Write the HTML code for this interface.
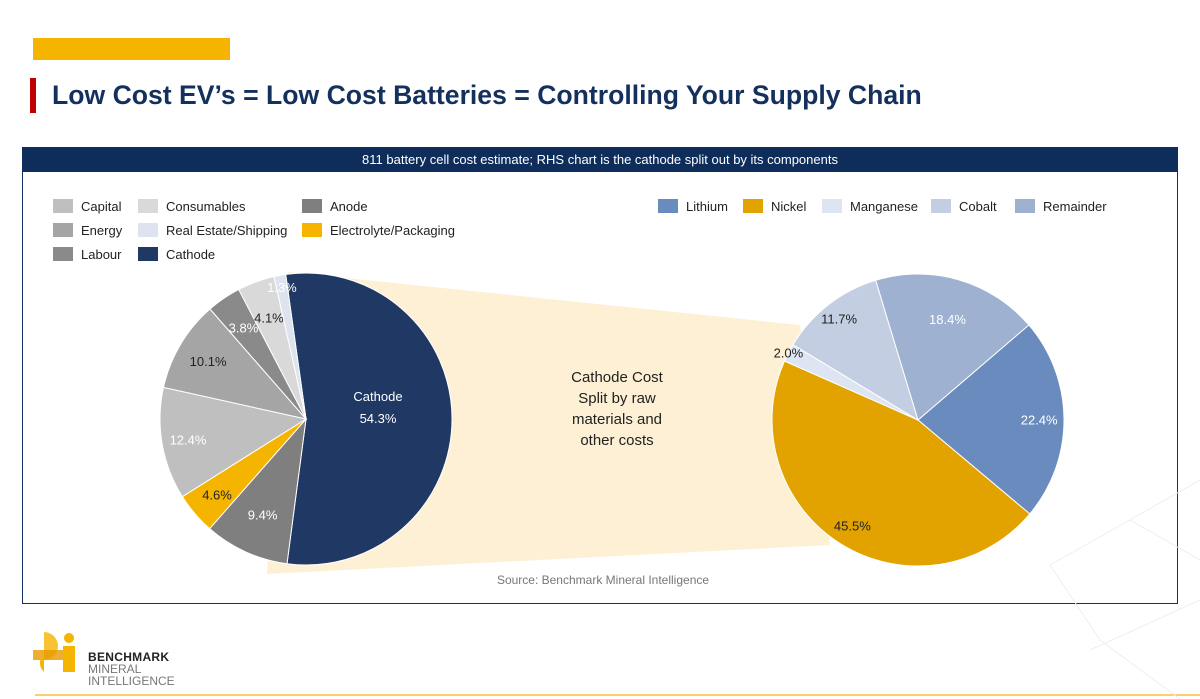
<!DOCTYPE html>
<html><head><meta charset="utf-8">
<style>
body{margin:0;width:1200px;height:699px;background:#fff;font-family:"Liberation Sans",sans-serif;position:relative;overflow:hidden}
.abs{position:absolute}
.lg{position:absolute;font-family:"Liberation Sans",sans-serif;font-size:13px;color:#222;white-space:nowrap}
.lg i{display:inline-block;width:20px;height:14px;vertical-align:-2px;margin-right:8px}
</style></head><body>
<div class="abs" style="left:33px;top:38px;width:197px;height:22px;background:#f5b400"></div>
<div class="abs" style="left:30px;top:78px;width:6px;height:35px;background:#c00000"></div>
<div class="abs" style="left:52px;top:80px;font-size:26.6px;font-weight:bold;color:#14305c">Low Cost EV’s = Low Cost Batteries = Controlling Your Supply Chain</div>
<div class="abs" style="left:22px;top:147px;width:1154px;height:455px;border:1px solid #14305c"></div>
<div class="abs" style="left:22px;top:147px;width:1156px;height:25px;background:#0e2d5a;color:#fff;font-size:13px;text-align:center;line-height:25px">811 battery cell cost estimate; RHS chart is the cathode split out by its components</div>
<svg class="abs" style="left:0;top:0" width="1200" height="699" id="chart">
<polygon points="288,272 800,325 830,545 267,574" fill="#fdf0d4"/>
<g id="left"></g><g id="right"></g>
<text x="617" y="382" text-anchor="middle" font-size="15" fill="#222">Cathode Cost</text>
<text x="617" y="403" text-anchor="middle" font-size="15" fill="#222">Split by raw</text>
<text x="617" y="424" text-anchor="middle" font-size="15" fill="#222">materials and</text>
<text x="617" y="445" text-anchor="middle" font-size="15" fill="#222">other costs</text>
<text x="603" y="584" text-anchor="middle" font-size="12" fill="#777">Source: Benchmark Mineral Intelligence</text>
<line x1="35" y1="695" x2="1200" y2="695" stroke="#f5c040" stroke-width="1.5"/>
<g stroke="#eeeeee" stroke-width="1" fill="none">
<polyline points="1050,565 1130,520 1200,480"/><polyline points="1050,565 1100,640 1180,699"/><polyline points="1090,650 1200,600"/><polyline points="1130,520 1200,560"/>
</g>
</svg>
<div class="lg" style="left:53px;top:199px"><i style="background:#bfbfbf"></i>Capital</div>
<div class="lg" style="left:138px;top:199px"><i style="background:#d9d9d9"></i>Consumables</div>
<div class="lg" style="left:302px;top:199px"><i style="background:#7f7f7f"></i>Anode</div>
<div class="lg" style="left:53px;top:223px"><i style="background:#a5a5a5"></i>Energy</div>
<div class="lg" style="left:138px;top:223px"><i style="background:#dde4ef"></i>Real Estate/Shipping</div>
<div class="lg" style="left:302px;top:223px"><i style="background:#f5b400"></i>Electrolyte/Packaging</div>
<div class="lg" style="left:53px;top:247px"><i style="background:#8a8a8a"></i>Labour</div>
<div class="lg" style="left:138px;top:247px"><i style="background:#1f3864"></i>Cathode</div>
<div class="lg" style="left:658px;top:199px"><i style="background:#6a8bbd"></i>Lithium</div>
<div class="lg" style="left:743px;top:199px"><i style="background:#e2a300"></i>Nickel</div>
<div class="lg" style="left:822px;top:199px"><i style="background:#dde5f2"></i>Manganese</div>
<div class="lg" style="left:931px;top:199px"><i style="background:#c3cee2"></i>Cobalt</div>
<div class="lg" style="left:1015px;top:199px"><i style="background:#9fb1d0"></i>Remainder</div>
<svg class="abs" style="left:30px;top:632px" width="50" height="45">
<circle cx="39" cy="6" r="5" fill="#f5b400"/><rect x="33" y="14" width="12" height="26" fill="#f5b400"/>
<path d="M14,0 A14,14 0 0 1 14,28 Z" fill="#f5b400" opacity=".8"/><rect x="3" y="18" width="30" height="10" fill="#e89a00" opacity=".8"/>
<path d="M14,22 A12,12 0 0 0 14,40 Z" fill="#f5b400"/>
</svg>
<div class="abs" style="left:88px;top:651px;font-size:12px;line-height:12px;color:#222"><b style="letter-spacing:.3px">BENCHMARK</b><br><span style="color:#777">MINERAL<br>INTELLIGENCE</span></div>
<script>
const leftCats=["Cathode","Anode","Electrolyte/Packaging","Capital","Energy","Labour","Consumables","Real Estate/Shipping"];
const leftVals=[54.3,9.4,4.6,12.4,10.1,3.8,4.1,1.3];
const leftColors=["#1f3864","#7f7f7f","#f5b400","#bfbfbf","#a5a5a5","#8a8a8a","#d9d9d9","#dde4ef"];
const rightCats=["Lithium","Nickel","Manganese","Cobalt","Remainder"];
const rightVals=[22.4,45.5,2.0,11.7,18.4];
const rightColors=["#6a8bbd","#e2a300","#dde5f2","#c3cee2","#9fb1d0"];
const NS="http://www.w3.org/2000/svg";
function pt(cx,cy,r,a){const t=a*Math.PI/180;return [cx+r*Math.sin(t),cy-r*Math.cos(t)];}
function pie(g,cats,vals,cols,cx,cy,r,start,labelFn){
  const tot=vals.reduce((a,b)=>a+b,0);let a=start;
  vals.forEach((v,i)=>{
    const span=v/tot*360,a2=a+span;
    const p1=pt(cx,cy,r,a),p2=pt(cx,cy,r,a2);
    const path=document.createElementNS(NS,"path");
    path.setAttribute("d",`M${cx},${cy}L${p1[0]},${p1[1]}A${r},${r} 0 ${span>180?1:0} 1 ${p2[0]},${p2[1]}Z`);
    path.setAttribute("fill",cols[i]);path.setAttribute("stroke","#fff");path.setAttribute("stroke-width","1");
    
    
    g.appendChild(path);
    labelFn(g,i,v,a+span/2,cx,cy,r);
    a=a2;
  });
}
function addText(g,x,y,s,fill,name){
  const t=document.createElementNS(NS,"text");
  t.setAttribute("x",x);t.setAttribute("y",y);t.setAttribute("text-anchor","middle");
  t.setAttribute("font-size","13");t.setAttribute("fill",fill);t.textContent=s;
  
  
  g.appendChild(t);
}
const lf=[0,0.72,0.8,0.82,0.78,0.76,0.74,0.92];
const lcol=["#fff","#fff","#222","#fff","#222","#fff","#222","#fff"];
pie(document.getElementById("left"),leftCats,leftVals,leftColors,306,419,146,-8,(g,i,v,m,cx,cy,r)=>{
  if(i===0){addText(g,cx+72,cy-18,"Cathode","#fff","cathode-label");addText(g,cx+72,cy+4,v.toFixed(1)+"%","#fff","cathode-value");return;}
  const p=pt(cx,cy,r*lf[i],m);addText(g,p[0],p[1]+5,v.toFixed(1)+"%",lcol[i],"label-"+i);
});
const rf=[0.83,0.85,1.0,0.88,0.72];
const rcol=["#fff","#222","#222","#222","#fff"];
pie(document.getElementById("right"),rightCats,rightVals,rightColors,918,420,146,49.4,(g,i,v,m,cx,cy,r)=>{
  const p=pt(cx,cy,r*rf[i],m);addText(g,p[0],p[1]+5,v.toFixed(1)+"%",rcol[i],"label-r"+i);
});
</script>
</body></html>
